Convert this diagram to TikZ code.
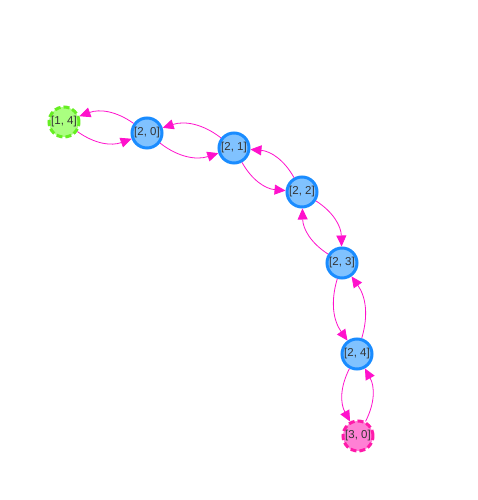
\documentclass[tikz,border=0pt]{standalone}
\usepackage{fontspec}
\setmainfont{Liberation Sans}
\usetikzlibrary{arrows.meta}
\definecolor{bluefill}{HTML}{80C2FF}
\definecolor{blueline}{HTML}{1A8CFF}
\definecolor{greenfill}{HTML}{AAFF80}
\definecolor{greenline}{HTML}{66EE22}
\definecolor{pinkfill}{HTML}{FF80D5}
\definecolor{pinkline}{HTML}{FF1AAA}
\definecolor{edgecol}{HTML}{FF11CC}
\definecolor{txt}{HTML}{333333}
\tikzset{
  nd/.style={circle, minimum size=30pt, inner sep=0pt, line width=3pt, text=txt, font=\fontsize{11.5pt}{13pt}\selectfont},
  bluend/.style={nd, draw=blueline, fill=bluefill},
  greennd/.style={nd, draw=greenline, fill=greenfill, dash pattern=on 6pt off 3pt},
  pinknd/.style={nd, draw=pinkline, fill=pinkfill, dash pattern=on 6pt off 3pt},
  edge/.style={draw=edgecol, line width=0.8pt, -{Triangle[length=11pt,width=10pt]}, fill=none}
}
\begin{document}
\begin{tikzpicture}[x=1pt,y=1pt]
\useasboundingbox (0,0) rectangle (478,500);
\node[greennd] (n14) at (64,378) {[1, 4]};
\node[bluend] (n20) at (147,367) {[2, 0]};
\node[bluend] (n21) at (234,352) {[2, 1]};
\node[bluend] (n22) at (302,308) {[2, 2]};
\node[bluend] (n23) at (342,237) {[2, 3]};
\node[bluend] (n24) at (357,146) {[2, 4]};
\node[pinknd] (n30) at (358,64) {[3, 0]};
\draw[edge] (n20) to[bend right=28] (n14);
\draw[edge] (n14) to[bend right=28] (n20);
\draw[edge] (n21) to[bend right=28] (n20);
\draw[edge] (n20) to[bend right=28] (n21);
\draw[edge] (n22) to[bend right=28] (n21);
\draw[edge] (n21) to[bend right=28] (n22);
\draw[edge] (n22) to[bend left=28] (n23);
\draw[edge] (n23) to[bend left=28] (n22);
\draw[edge] (n23) to[bend right=26] (n24);
\draw[edge] (n24) to[bend right=26] (n23);
\draw[edge] (n24) to[bend right=28] (n30);
\draw[edge] (n30) to[bend right=28] (n24);
\end{tikzpicture}
\end{document}
